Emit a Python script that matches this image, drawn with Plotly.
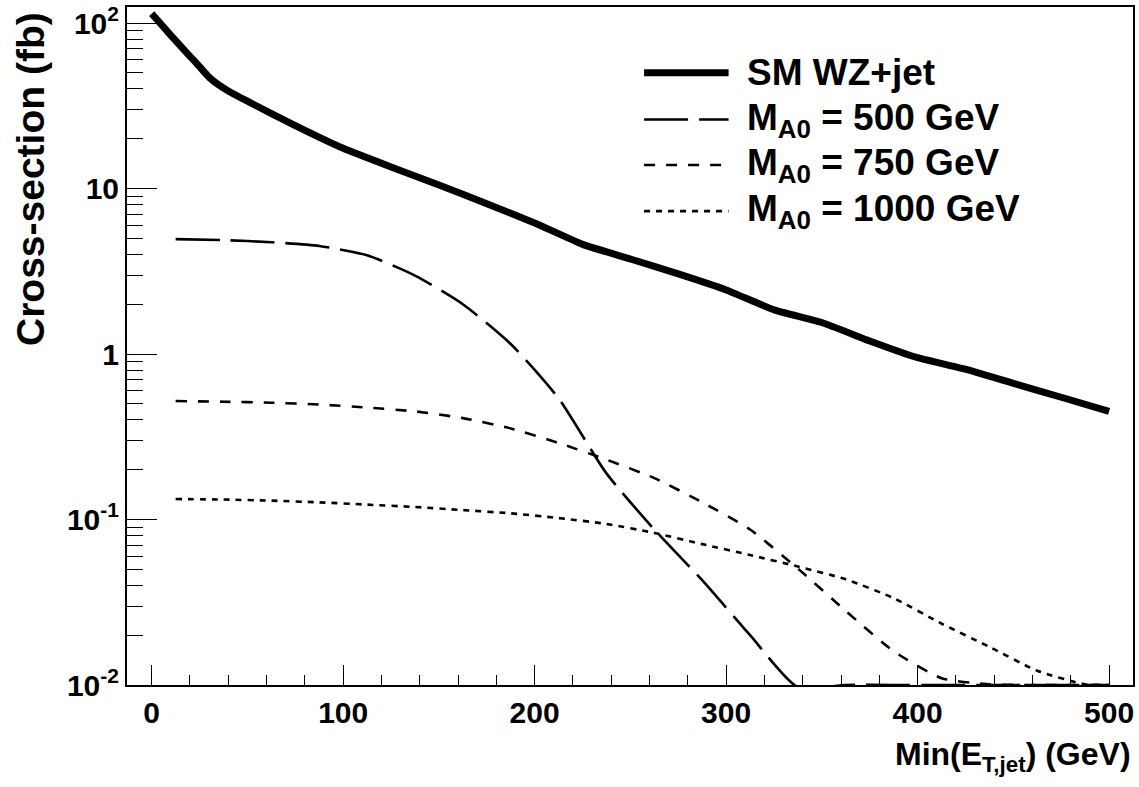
import plotly.graph_objects as go

# ---------------- data ----------------
sm_x = [0, 5, 10, 15, 20, 25, 30, 35, 40, 50, 75, 100, 125, 150, 175, 200, 225,
        250, 275, 300, 325, 350, 375, 400, 425, 450, 475, 500]
sm_y = [114, 98, 84.3, 72.8, 63, 54.5, 47, 42.3, 38.9, 33.7, 24, 17.5, 13.5, 10.5, 8.1,
        6.2, 4.6, 3.75, 3.05, 2.44, 1.85, 1.55, 1.2, 0.95, 0.81, 0.665, 0.548, 0.45]

m_x = [12.5, 37.5, 62.5, 87.5, 112.5, 137.5, 162.5, 187.5, 212.5, 237.5, 262.5,
       287.5, 312.5, 337.5, 362.5, 387.5, 412.5, 437.5, 462.5, 487.5, 500]
m500_y = [4.95, 4.88, 4.74, 4.50, 3.95, 2.98, 2.00, 1.15, 0.54, 0.19, 0.087,
          0.043, 0.020, 0.0097, 0.0100, 0.0100, 0.0100, 0.0100, 0.0100, 0.0100, 0.0100]
m750_y = [0.52, 0.515, 0.508, 0.495, 0.475, 0.45, 0.41, 0.355, 0.29, 0.23, 0.178,
          0.127, 0.087, 0.0505, 0.028, 0.016, 0.011, 0.0101, 0.0100, 0.0100, 0.0100]
m1000_y = [0.133, 0.132, 0.130, 0.127, 0.123, 0.119, 0.114, 0.109, 0.102, 0.094, 0.083,
           0.071, 0.061, 0.052, 0.0435, 0.0335, 0.0235, 0.017, 0.0122, 0.0101, 0.0100]

series_names = ["SM WZ+jet", "M<sub>A0</sub> = 500 GeV",
                "M<sub>A0</sub> = 750 GeV", "M<sub>A0</sub> = 1000 GeV"]

x_tickvals = [0, 100, 200, 300, 400, 500]
y_tickvals = [0.01, 0.1, 1, 10, 100]
y_ticktext = ["10<sup>-2</sup>", "10<sup>-1</sup>", "1", "10", "10<sup>2</sup>"]

x_title = "Min(E<sub>T,jet</sub>) (GeV)"
y_title = "Cross-section (fb)"

# ---------------- styles ----------------
FONT = "Liberation Sans, Arial, Helvetica, sans-serif"
styles = [
    dict(width=7, dash="solid", shape="spline", smoothing=0.35),
    dict(width=2.6, dash="44px,11px", shape="spline", smoothing=0.6),
    dict(width=2.6, dash="11px,11px", shape="spline", smoothing=0.6),
    dict(width=2.6, dash="6px,6px", shape="spline", smoothing=0.6),
]
xs = [sm_x, m_x, m_x, m_x]
ys = [sm_y, m500_y, m750_y, m1000_y]

fig = go.Figure()
for name, x, y, st in zip(series_names, xs, ys, styles):
    fig.add_trace(go.Scatter(
        x=x, y=y, mode="lines", name=name, showlegend=False,
        line=dict(color="black", width=st["width"], dash=st["dash"],
                  shape=st["shape"], smoothing=st["smoothing"]),
        cliponaxis=True,
    ))

# ---------------- manual legend (paper coords) ----------------
leg_rows = [0.903, 0.834, 0.767, 0.699]
for name, st, yr in zip(series_names, styles, leg_rows):
    fig.add_shape(type="line", xref="paper", yref="paper",
                  x0=0.514, x1=0.598, y0=yr, y1=yr,
                  line=dict(color="black", width=st["width"], dash=st["dash"]))
    fig.add_annotation(xref="paper", yref="paper", x=0.614, y=yr,
                       xanchor="left", yanchor="middle", showarrow=False,
                       text=name, font=dict(family=FONT, size=37, color="black",
                                            weight="bold"))

# ---------------- axis titles ----------------
fig.add_annotation(xref="paper", yref="paper", x=1, y=0, xanchor="right",
                   yanchor="top", yshift=-49, showarrow=False, text=x_title,
                   font=dict(family=FONT, size=32, color="black", weight="bold"))
fig.add_annotation(xref="paper", yref="paper", x=0, y=1, xanchor="center",
                   yanchor="top", xshift=-97, yshift=-3, showarrow=False,
                   textangle=-90, text=y_title,
                   font=dict(family=FONT, size=39, color="black", weight="bold"))

y_minor = [m * 10 ** e for e in range(-2, 3) for m in range(2, 10)]

fig.update_layout(
    width=1139, height=787,
    margin=dict(l=127, r=6, t=7, b=102, autoexpand=False),
    paper_bgcolor="white", plot_bgcolor="white",
    font=dict(family=FONT, size=30, color="black", weight="bold"),
    xaxis=dict(
        range=[-12.9, 512.5], showline=True, linewidth=2, linecolor="black",
        mirror=True, showgrid=False, zeroline=False, automargin=False,
        tickmode="array", tickvals=x_tickvals,
        ticks="inside", ticklen=20, tickwidth=1.3, tickcolor="black",
        tickfont=dict(family=FONT, size=30, color="black", weight="bold"),
        minor=dict(dtick=20, tick0=0, ticks="inside", ticklen=10,
                   tickwidth=1.3, tickcolor="black", showgrid=False),
    ),
    yaxis=dict(
        type="log", range=[-2, 2.097], showline=True, linewidth=2,
        linecolor="black", mirror=True, showgrid=False, zeroline=False,
        automargin=False,
        tickmode="array", tickvals=y_tickvals, ticktext=y_ticktext,
        ticks="inside", ticklen=30, tickwidth=1.3, tickcolor="black",
        tickfont=dict(family=FONT, size=30, color="black", weight="bold"),
        minor=dict(tickmode="array", tickvals=y_minor, ticks="inside",
                   ticklen=16, tickwidth=1.3, tickcolor="black", showgrid=False),
    ),
)

fig.write_html(
    "out.html",
    config={"displayModeBar": False},
    post_script="document.body.style.margin='0px';document.body.style.overflow='hidden';",
)
